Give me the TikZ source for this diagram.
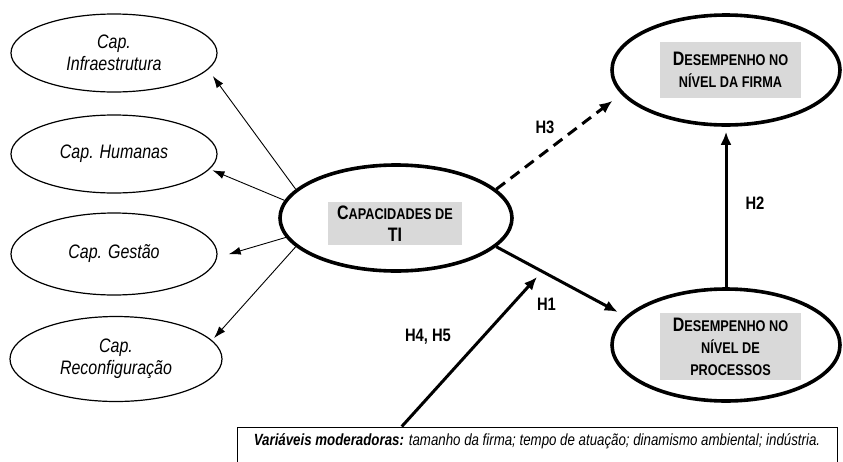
\documentclass[tikz,border=0pt]{standalone}
\usepackage{fontspec}
\setmainfont{Liberation Sans}[FakeStretch=0.82]
\usetikzlibrary{shapes.geometric,arrows.meta,calc}
\definecolor{bandgray}{RGB}{217,217,217}
\newcommand{\bigini}[1]{{\fontsize{19.5}{22}\selectfont #1}}

\begin{document}
\begin{tikzpicture}[x=1pt,y=-1pt,
  capell/.style={ellipse,draw,line width=1.2pt,minimum width=206pt,minimum height=78pt,inner sep=0pt,align=center,font=\itshape\fontsize{19.5}{22}\selectfont},
  bigell/.style={ellipse,draw,line width=3.6pt,inner sep=0pt},
  band/.style={fill=bandgray,align=center,inner sep=0pt,font=\bfseries\fontsize{15.5}{22}\selectfont},
  hyp/.style={font=\bfseries\fontsize{18}{20}\selectfont,inner sep=0pt},
  caparrow/.style={-{Latex[length=12pt,width=8pt]},line width=0.9pt},
  hyparrow/.style={-{Latex[length=13pt,width=11pt]},line width=3pt}]
\useasboundingbox (0,0) rectangle (843,461);

\node [capell] (infra) at (114,53) {Cap.\\Infraestrutura};
\node [capell] (human) at (114,154) {Cap. Humanas};
\node [capell,minimum height=82pt] (gestao) at (114,254) {Cap. Gestão};
\node [capell,minimum width=212pt,minimum height=85pt] (reconf) at (116,359) {Cap.\\Reconfiguração};

\node [bigell,minimum width=232pt,minimum height=106pt] (cap) at (396,218) {};
\node [band,minimum width=134pt,minimum height=43pt] (capt) at (395,223.5) {\bigini{C}APACIDADES DE\\\bigini{TI}};
\node [bigell,minimum width=228pt,minimum height=110pt] (firma) at (726,70) {};
\node [band,minimum width=141pt,minimum height=56pt] (firmat) at (730.5,70) {\bigini{D}ESEMPENHO NO\\NÍVEL DA FIRMA};
\node [bigell,minimum width=228pt,minimum height=112pt] (proc) at (726,345) {};
\node [band,minimum width=141pt,minimum height=67pt] (proct) at (730.5,346.5) {\bigini{D}ESEMPENHO NO\\NÍVEL DE\\PROCESSOS};

\node [draw,line width=1pt,minimum width=600pt,minimum height=40pt,inner sep=0pt,text height=12pt,text depth=16pt,font=\itshape\fontsize{16.2}{20}\selectfont] (moder) at (537,447) {\textbf{Variáveis moderadoras:} tamanho da firma; tempo de atuação; dinamismo ambiental; indústria.};

\draw [caparrow,shorten >=8pt] (cap.164) -- (infra.-10);
\draw [caparrow,shorten >=3pt] (cap.171) -- (human.-9);
\draw [caparrow,shorten >=12pt] (cap.190) -- (gestao.-2);
\draw [caparrow,shorten >=3pt] (cap.196) -- (reconf.11);

\draw [hyparrow,dash pattern=on 11pt off 7pt,shorten >=11pt] (cap.16) -- (firma.193);
\draw [hyparrow,shorten >=9pt] (cap.-16) -- (proc.164);
\draw [hyparrow,shorten >=5pt] (proc.north) -- (firma.south);
\coordinate (modtip) at (537,277);
\draw [hyparrow] ($(moder.north west)!0.275!(moder.north east)$) -- (modtip);

\node [hyp] (h3) at (545,127.5) {H3};
\node [hyp] (h2) at (755,203.5) {H2};
\node [hyp] (h1) at (546.5,304) {H1};
\node [hyp] (h45) at (428,336.5) {H4, H5};
\end{tikzpicture}
\end{document}
